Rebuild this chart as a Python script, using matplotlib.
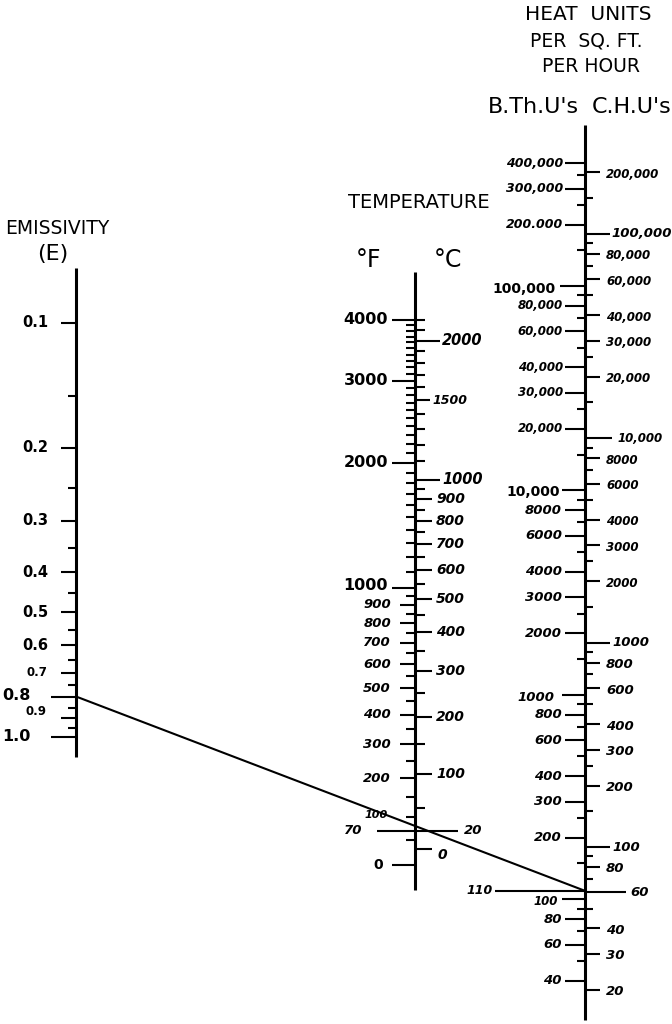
import numpy as np
import matplotlib
matplotlib.use("Agg")
import matplotlib.pyplot as plt
from matplotlib.patches import ConnectionPatch

plt.rcParams['font.family'] = ['DejaVu Sans']

# emissivity scale (E)
emis_major = [0.1, 0.2, 0.3, 0.4, 0.5, 0.6, 0.7, 0.8, 0.9, 1.0]
emis_labels = ['0.1', '0.2', '0.3', '0.4', '0.5', '0.6', '0.7', '0.8', '0.9', '1.0']
emis_minor = [0.15, 0.25, 0.35, 0.45, 0.55, 0.65, 0.75, 0.85, 0.95]

# temperature scale, deg F on the left, deg C on the right
temp_f_major = [0, 70, 100, 200, 300, 400, 500, 600, 700, 800, 900, 1000, 2000, 3000, 4000]
temp_f_minor = [50, 150, 250, 350, 450, 550, 650, 750, 850, 950,
                1100, 1200, 1300, 1400, 1500, 1600, 1700, 1800, 1900,
                2100, 2200, 2300, 2400, 2500, 2600, 2700, 2800, 2900,
                3100, 3200, 3300, 3400, 3500, 3600, 3700, 3800, 3900]
temp_c_major = [0, 20, 100, 200, 300, 400, 500, 600, 700, 800, 900, 1000, 1500, 2000]
temp_c_minor = [50, 150, 250, 350, 450, 550, 650, 750, 850, 950,
                1100, 1200, 1300, 1400, 1600, 1700, 1800, 1900, 2100, 2200]

# heat flow scale, B.Th.U's on the left, C.H.U's on the right
btu_major = [40, 60, 80, 100, 200, 300, 400, 600, 800, 1000, 2000, 3000, 4000, 6000, 8000,
             10000, 20000, 30000, 40000, 60000, 80000, 100000, 200000, 300000, 400000]
btu_labels = ['40', '60', '80', '100', '200', '300', '400', '600', '800', '1000', '2000', '3000',
              '4000', '6000', '8000', '10,000', '20,000', '30,000', '40,000', '60,000', '80,000',
              '100,000', '200.000', '300,000', '400,000']
btu_minor = [50, 70, 90, 150, 250, 500, 700, 900, 1500, 2500, 5000, 7000, 9000,
             15000, 25000, 50000, 70000, 90000, 150000, 250000, 350000]
chu_major = [20, 30, 40, 60, 80, 100, 200, 300, 400, 600, 800, 1000, 2000, 3000, 4000, 6000,
             8000, 10000, 20000, 30000, 40000, 60000, 80000, 100000, 200000]
chu_labels = ['20', '30', '40', '60', '80', '100', '200', '300', '400', '600', '800', '1000',
              '2000', '3000', '4000', '6000', '8000', '10,000', '20,000', '30,000', '40,000',
              '60,000', '80,000', '100,000', '200,000']
chu_minor = [50, 70, 90, 150, 250, 500, 700, 900, 1500, 2500, 5000, 7000, 9000,
             15000, 25000, 50000, 70000, 90000, 150000]

# worked example drawn across the chart
read_emis = 0.8
read_btu = 110

W, H = 672, 1024
fig = plt.figure(figsize=(W / 100, H / 100), dpi=100)
ax = fig.add_axes([0, 0, 1, 1])
ax.set_xlim(0, W)
ax.set_ylim(H, 0)
ax.axis('off')


def scale_axes(lims, functions=None):
    a = fig.add_axes([0, 0, 1, 1])
    a.set_xlim(0, W)
    if functions is None:
        a.set_yscale('log')
    else:
        a.set_yscale('function', functions=functions)
    a.set_ylim(*lims)
    a.axis('off')
    return a


def f_fwd(f):
    return np.log10(np.maximum(np.asarray(f, float) + 459.67, 1e-6))


def f_inv(y):
    return 10 ** np.asarray(y, float) - 459.67


def c_fwd(c):
    return np.log10(np.maximum((np.asarray(c, float) + 273.15) * 1.8, 1e-6))


def c_inv(y):
    return 10 ** np.asarray(y, float) / 1.8 - 273.15


# each scale gets its own invisible log axes laid over the whole sheet
ax_e = scale_axes((4.934, 0.01659))
ax_f = scale_axes((-223.2, 16483), (f_fwd, f_inv))
ax_c = scale_axes((-141.76, 9139.6), (c_fwd, c_inv))
ax_btu = scale_axes((24.54, 2.5102e6))
ax_chu = scale_axes((13.63, 1.3946e6))

LW_AX = 2.2
LW_T = 1.5


def tick(a, v, x0, x1, lw=LW_T):
    a.plot([x0, x1], [v, v], color='k', lw=lw, solid_capstyle='butt')


def label(a, v, s, x, ha, size, dy=0, italic=False, bold=True):
    a.annotate(s, xy=(x, v), xytext=(0, dy), textcoords='offset pixels',
               ha=ha, va='center', fontsize=size,
               fontweight='bold' if bold else 'normal',
               fontstyle='oblique' if italic else 'normal')


# scale lines
ax.plot([76, 76], [268, 757], color='k', lw=LW_AX, solid_capstyle='butt')
ax.plot([415, 415], [272, 890], color='k', lw=LW_AX, solid_capstyle='butt')
ax.plot([585, 585], [125, 1020], color='k', lw=LW_AX, solid_capstyle='butt')

# emissivity
for v, s in zip(emis_major, emis_labels):
    if s in ('0.8', '1.0'):
        tick(ax_e, v, 51, 76)
        label(ax_e, v, s, 31, 'right', 11.5, dy=1)
    elif s in ('0.7', '0.9'):
        tick(ax_e, v, 61, 76)
        label(ax_e, v, s, 47, 'right', 8.5, dy=7 if s == '0.9' else 0)
    else:
        tick(ax_e, v, 61, 76)
        label(ax_e, v, s, 48, 'right', 10.5)
for v in emis_minor:
    tick(ax_e, v, 68, 76)

# temperature, Fahrenheit side
for v in temp_f_major:
    s = str(v)
    if v >= 1000:
        tick(ax_f, v, 392, 415)
        label(ax_f, v, s, 388, 'right', 11.5, dy=2 if v == 1000 else 0)
    elif v == 70:
        tick(ax_f, v, 377, 458)
        label(ax_f, v, s, 362, 'right', 9.5, italic=True)
    elif v == 100:
        tick(ax_f, v, 406, 415)
        label(ax_f, v, s, 388, 'right', 8, dy=2, italic=True)
    elif v == 0:
        tick(ax_f, v, 392, 415)
        label(ax_f, v, s, 383, 'right', 10)
    else:
        tick(ax_f, v, 400, 415)
        label(ax_f, v, s, 391, 'right', 9.5, italic=True)
for v in temp_f_minor:
    tick(ax_f, v, 406, 415)

# temperature, Centigrade side
for v in temp_c_major:
    s = str(v)
    if v in (1000, 2000):
        tick(ax_c, v, 415, 440)
        label(ax_c, v, s, 442, 'left', 10.5, italic=True)
    elif v == 1500:
        tick(ax_c, v, 415, 430)
        label(ax_c, v, s, 432, 'left', 9, italic=True)
    elif v == 20:
        label(ax_c, v, s, 464, 'left', 9.5, dy=1, italic=True)
    elif v == 0:
        tick(ax_c, v, 415, 432)
        label(ax_c, v, s, 437, 'left', 10, dy=-6, italic=True)
    else:
        tick(ax_c, v, 415, 432)
        label(ax_c, v, s, 436, 'left', 10, italic=True)
for v in temp_c_minor:
    tick(ax_c, v, 415, 425)

# heat flow, B.Th.U side
for v, s in zip(btu_major, btu_labels):
    if v == 100000:
        tick(ax_btu, v, 560, 585)
        label(ax_btu, v, s, 556, 'right', 10, dy=-3)
    elif v == 10000:
        tick(ax_btu, v, 562, 585)
        label(ax_btu, v, s, 560, 'right', 10, dy=-2)
    elif v >= 20000:
        tick(ax_btu, v, 565, 585)
        label(ax_btu, v, s, 563, 'right', 9 if v > 100000 else 8.5, italic=True)
    elif v == 1000:
        tick(ax_btu, v, 562, 585)
        label(ax_btu, v, s, 554, 'right', 9.5, dy=-3, italic=True)
    elif v == 100:
        tick(ax_btu, v, 562, 585)
        label(ax_btu, v, s, 558, 'right', 8.5, dy=-2, italic=True)
    else:
        tick(ax_btu, v, 565, 585)
        label(ax_btu, v, s, 562, 'right', 9.5 if v < 10000 else 9, italic=True)
for v in btu_minor:
    tick(ax_btu, v, 577, 585)

# heat flow, C.H.U side
for v, s in zip(chu_major, chu_labels):
    if v == 100000:
        tick(ax_chu, v, 585, 610)
        label(ax_chu, v, s, 611, 'left', 9.5, italic=True)
    elif v == 60:
        tick(ax_chu, v, 585, 626)
        label(ax_chu, v, s, 630, 'left', 9.5, italic=True)
    elif v in (1000, 100):
        tick(ax_chu, v, 585, 610)
        label(ax_chu, v, s, 612, 'left', 9.5, italic=True)
    elif v == 10000:
        tick(ax_chu, v, 585, 612)
        label(ax_chu, v, s, 617, 'left', 8.5, italic=True)
    else:
        tick(ax_chu, v, 585, 600)
        label(ax_chu, v, s, 606, 'left', 8.5 if v >= 2000 else 9.5, dy=-2, italic=True)
for v in chu_minor:
    tick(ax_chu, v, 585, 593)

# worked example: E = 0.8 through 70 F gives 110 B.Th.U's
tick(ax_btu, read_btu, 495, 585)
label(ax_btu, read_btu, str(read_btu), 493, 'right', 9, italic=True)
con = ConnectionPatch(xyA=(77, read_emis), coordsA=ax_e.transData,
                      xyB=(585, read_btu), coordsB=ax_btu.transData,
                      color='k', lw=1.5)
fig.add_artist(con)

# headings
ax.text(57, 229, 'EMISSIVITY', ha='center', va='center', fontsize=13.5)
ax.text(53, 254, '(E)', ha='center', va='center', fontsize=16)
ax.text(419, 203, 'TEMPERATURE', ha='center', va='center', fontsize=14)
ax.text(368, 260, '°F', ha='center', va='center', fontsize=17)
ax.text(448, 260, '°C', ha='center', va='center', fontsize=17)
ax.text(588, 14, 'HEAT  UNITS', ha='center', va='center', fontsize=14.5)
ax.text(586, 41, 'PER  SQ. FT.', ha='center', va='center', fontsize=13.5)
ax.text(591, 67, 'PER HOUR', ha='center', va='center', fontsize=13.5)
ax.text(533, 107, "B.Th.U's", ha='center', va='center', fontsize=16)
ax.text(632, 107, "C.H.U's", ha='center', va='center', fontsize=16)

fig.savefig('out.png', dpi=100, facecolor='white')
